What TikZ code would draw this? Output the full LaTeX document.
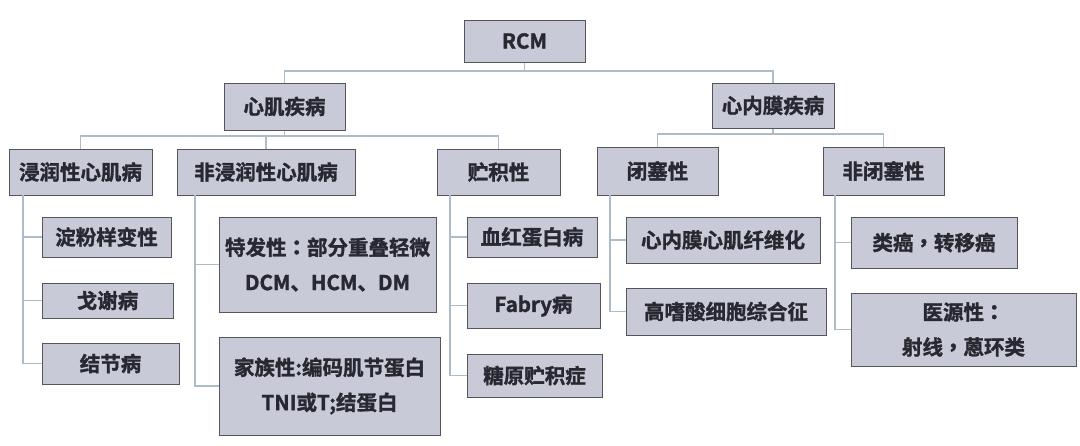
\documentclass[tikz,border=0pt]{standalone}
\usepackage{fontspec}
\setmainfont{Noto Sans CJK SC}[BoldFont={Noto Sans CJK SC Bold}, BoldFeatures={FakeBold=1.5}]
\newfontfamily\tcpunct{Noto Sans CJK TC Bold}[FakeBold=1.5]
\newcommand{\cpunct}[1]{{\tcpunct #1}}
\definecolor{boxfill}{HTML}{C9CAD7}
\definecolor{boxline}{HTML}{55555C}
\definecolor{txt}{HTML}{282832}
\definecolor{wire}{HTML}{AEBBC8}
\begin{document}
\begin{tikzpicture}[x=1pt,y=1pt,
  box/.style={draw=boxline, line width=1pt, fill=boxfill, text=txt, inner sep=0pt,
    align=center, font=\fontsize{20.5}{35}\selectfont\bfseries},
  wirestyle/.style={draw=wire, line width=1.3pt}]
\path[use as bounding box] (0,0) rectangle (1080,-445);
% level 0
\node[box, minimum width=121, minimum height=42] (rcm) at (524.5,-41) {RCM};
% level 1
\node[box, minimum width=121, minimum height=47] (xj) at (284.5,-106.5) {心肌疾病};
\node[box, minimum width=122, minimum height=45] (xnm) at (773,-105.5) {心内膜疾病};
% level 2
\node[box, minimum width=143, minimum height=46] (jr) at (80.5,-172) {浸润性心肌病};
\node[box, minimum width=178, minimum height=46] (fjr) at (266,-172) {非浸润性心肌病};
\node[box, minimum width=123, minimum height=46] (zj) at (498.5,-172) {贮积性};
\node[box, minimum width=121, minimum height=48] (bs) at (657.5,-171) {闭塞性};
\node[box, minimum width=121, minimum height=48] (fbs) at (883.5,-171) {非闭塞性};
% level 3
\node[box, minimum width=129, minimum height=40] (a1) at (106.5,-237) {淀粉样变性};
\node[box, minimum width=131, minimum height=35] (a2) at (107.5,-300.5) {戈谢病};
\node[box, minimum width=137, minimum height=41] (a3) at (110.5,-363.5) {结节病};
\node[box, minimum width=217, minimum height=95] (b1) at (327.5,-264.5) {特发性\cpunct{：}部分重叠轻微\\DCM、HCM、DM};
\node[box, minimum width=221, minimum height=98] (b2) at (329.5,-386) {家族性:编码肌节蛋白\\TNI或T;结蛋白};
\node[box, minimum width=130, minimum height=40] (c1) at (532,-237) {血红蛋白病};
\node[box, minimum width=133, minimum height=45] (c2) at (533.5,-305.5) {Fabry病};
\node[box, minimum width=135, minimum height=43] (c3) at (534.5,-375.5) {糖原贮积症};
\node[box, minimum width=194, minimum height=46] (d1) at (723,-240) {心内膜心肌纤维化};
\node[box, minimum width=200, minimum height=47] (d2) at (726,-311.5) {高嗜酸细胞综合征};
\node[box, minimum width=166, minimum height=51] (e1) at (934,-242.5) {类癌\cpunct{，}转移癌};
\node[box, minimum width=225, minimum height=73] (e2) at (963.5,-329.5) {医源性\cpunct{：}\\射线\cpunct{，}蒽环类};
% buses
\coordinate (bus0) at (0,-71);
\coordinate (bus1) at (0,-136);
\coordinate (bus2) at (0,-134);
\coordinate (jrx) at (23,-195);
\coordinate (fjrx) at (195,-195);
\coordinate (zjx) at (450,-195);
\coordinate (bsx) at (610,-195);
\coordinate (fbsx) at (835,-195);
\path[wirestyle] (rcm.south) -- (rcm.south |- bus0);
\path[wirestyle] (xj.north) -- (xj.north |- bus0) -- (xnm.north |- bus0) -- (xnm.north);
\path[wirestyle] (xj.south) -- (xj.south |- bus1);
\path[wirestyle] (jr.north) -- (jr.north |- bus1) -- (zj.north |- bus1) -- (zj.north);
\path[wirestyle] (fjr.north) -- (fjr.north |- bus1);
\path[wirestyle] (xnm.south) -- (xnm.south |- bus2);
\path[wirestyle] (bs.north) -- (bs.north |- bus2) -- (fbs.north |- bus2) -- (fbs.north);
\path[wirestyle] (jrx) |- (a1.west);
\path[wirestyle] (jrx) |- (a2.west);
\path[wirestyle] (jrx) |- (a3.west);
\path[wirestyle] (fjrx) |- (b1.west);
\path[wirestyle] (fjrx) |- (b2.west);
\path[wirestyle] (zjx) |- (c1.west);
\path[wirestyle] (zjx) |- (c2.west);
\path[wirestyle] (zjx) |- (c3.west);
\path[wirestyle] (bsx) |- (d1.west);
\path[wirestyle] (bsx) |- (d2.west);
\path[wirestyle] (fbsx) |- (e1.west);
\path[wirestyle] (fbsx) |- (e2.west);
\end{tikzpicture}
\end{document}
